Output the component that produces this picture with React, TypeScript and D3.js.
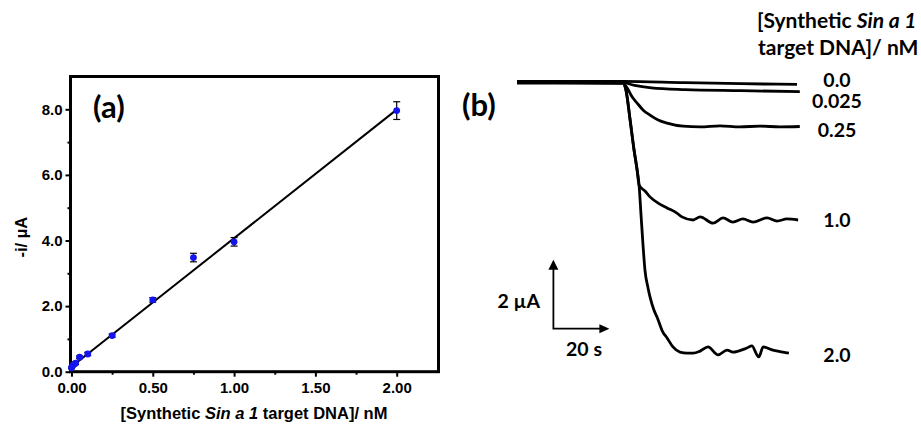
import React, { useEffect, useRef } from 'react';
import * as d3 from 'd3';

// (a) calibration: concentration (nM) vs -i (µA)
const concentrations = [0, 0.01, 0.025, 0.05, 0.1, 0.25, 0.5, 0.75, 1.0, 2.0];
const currents = [0.12, 0.2, 0.26, 0.44, 0.54, 1.1, 2.19, 3.48, 3.96, 7.96];
const errors = [0.03, 0.03, 0.04, 0.04, 0.05, 0.05, 0.07, 0.13, 0.13, 0.27];
const fitSlope = 3.92;
const fitIntercept = 0.15;
const xTicks = [0, 0.5, 1.0, 1.5, 2.0];
const xMinorTicks = [0.25, 0.75, 1.25, 1.75];
const yTicks = [0, 2, 4, 6, 8];
const yMinorTicks = [1, 3, 5, 7];

// (b) amperometric traces: [time / s, current / µA]
const trace00: [number, number][] = [
  [0, 0.02], [38, 0.02], [60, -0.02], [80, -0.05], [100, -0.07],
];
const trace0025: [number, number][] = [
  [0, -0.02], [38, -0.02], [42, -0.1], [48, -0.17], [60, -0.22], [80, -0.25], [101, -0.28],
];
const trace025: [number, number][] = [
  [0, 0], [37.9, -0.03], [39.3, -0.17], [41.1, -0.43], [42.9, -0.61], [45, -0.81],
  [47.5, -0.96], [50.4, -1.1], [53.6, -1.19], [59.3, -1.28], [65.4, -1.3], [72.5, -1.27],
  [79.6, -1.3], [86.8, -1.28], [93.9, -1.3], [101, -1.29],
];
const trace10: [number, number][] = [
  [0, -0.03], [37.9, -0.03], [38.9, -0.23], [40.4, -1.1], [41.8, -1.97], [42.9, -2.55],
  [43.6, -2.99], [45.7, -3.16], [47.5, -3.33], [50.4, -3.51], [53.6, -3.65], [57.1, -3.8],
  [58.9, -3.91], [62.9, -4.0], [65.4, -3.91], [70, -4.09], [73.6, -3.94], [77.1, -4.06],
  [80.7, -3.97], [84.3, -4.06], [89.3, -3.94], [92.9, -4.03], [96.4, -3.97], [100.4, -4.0],
];
const trace20: [number, number][] = [
  [0, -0.01], [37.9, -0.03], [38.9, -0.23], [40.4, -1.1], [41.8, -1.97], [42.9, -2.55],
  [43.6, -2.99], [44.3, -3.86], [45, -4.72], [45.7, -5.45], [46.8, -5.97], [47.5, -6.23],
  [48.9, -6.61], [50, -6.81], [52.1, -7.25], [53.6, -7.42], [55.7, -7.68], [58.2, -7.83],
  [60.7, -7.86], [62.9, -7.86], [65.4, -7.8], [68.2, -7.68], [71.8, -7.91], [75, -7.77],
  [77.1, -7.83], [82.1, -7.71], [83.9, -7.65], [85.7, -7.91], [86.4, -7.97], [87.9, -7.68],
  [91.4, -7.77], [95, -7.83], [97.1, -7.86],
];
const traces = [trace00, trace0025, trace025, trace10, trace20];
const traceLabels = ['0.0', '0.025', '0.25', '1.0', '2.0'];
const scaleBarCurrent = 2; // µA
const scaleBarTime = 20; // s

const armFont = '"Liberation Sans", Arial, sans-serif';
const calFont = 'Lato, "Open Sans", sans-serif';

function drawCalibration(svg: d3.Selection<SVGSVGElement, unknown, null, undefined>) {
  const x = d3.scaleLinear().domain([-0.006, 2.257]).range([70.5, 438.5]);
  const y = d3.scaleLinear().domain([0, 9]).range([371.7, 76.5]);
  const g = svg.append('g');

  const xAxis = g.append('g').attr('transform', `translate(0,${y(0)})`)
    .call(d3.axisBottom(x).tickValues(xTicks).tickSize(5).tickPadding(6).tickFormat(d3.format('.2f')));
  const xMinor = g.append('g').attr('transform', `translate(0,${y(0)})`)
    .call(d3.axisBottom(x).tickValues(xMinorTicks).tickSize(3).tickFormat(() => ''));
  const yAxis = g.append('g').attr('transform', `translate(${x.range()[0]},0)`)
    .call(d3.axisLeft(y).tickValues(yTicks).tickSize(5).tickPadding(3).tickFormat(d3.format('.1f')));
  const yMinor = g.append('g').attr('transform', `translate(${x.range()[0]},0)`)
    .call(d3.axisLeft(y).tickValues(yMinorTicks).tickSize(3).tickFormat(() => ''));

  [xAxis, xMinor, yAxis, yMinor].forEach(a => {
    a.select('.domain').remove();
    a.selectAll('line').attr('stroke', '#000').attr('stroke-width', 2);
    a.selectAll('text').attr('font-family', armFont).attr('font-weight', 'bold')
      .attr('font-size', 15).attr('fill', '#000');
  });

  // frame
  g.append('rect')
    .attr('x', x.range()[0]).attr('y', y.range()[1])
    .attr('width', x.range()[1] - x.range()[0]).attr('height', y.range()[0] - y.range()[1])
    .attr('fill', 'none').attr('stroke', '#000').attr('stroke-width', 3);

  // linear fit
  g.append('line')
    .attr('x1', x(0)).attr('y1', y(fitIntercept))
    .attr('x2', x(2)).attr('y2', y(fitIntercept + fitSlope * 2))
    .attr('stroke', '#000').attr('stroke-width', 2);

  const pts = concentrations.map((c, i) => ({ c, v: currents[i], e: errors[i] }));
  const eb = g.selectAll('g.eb').data(pts).enter().append('g').attr('stroke', '#000').attr('stroke-width', 1.2);
  eb.append('line').attr('x1', d => x(d.c)).attr('x2', d => x(d.c))
    .attr('y1', d => y(d.v - d.e)).attr('y2', d => y(d.v + d.e));
  eb.append('line').attr('x1', d => x(d.c) - 3.5).attr('x2', d => x(d.c) + 3.5)
    .attr('y1', d => y(d.v - d.e)).attr('y2', d => y(d.v - d.e));
  eb.append('line').attr('x1', d => x(d.c) - 3.5).attr('x2', d => x(d.c) + 3.5)
    .attr('y1', d => y(d.v + d.e)).attr('y2', d => y(d.v + d.e));

  g.selectAll('circle.pt').data(pts).enter().append('circle')
    .attr('cx', d => x(d.c)).attr('cy', d => y(d.v)).attr('r', 3.4)
    .attr('fill', '#1414f0');

  g.append('text').attr('x', 93).attr('y', 118)
    .attr('font-family', calFont).attr('font-weight', 'bold').attr('font-size', 31)
    .text('(a)');

  g.append('text').attr('transform', `translate(27,${y(4.1)}) rotate(-90)`)
    .attr('text-anchor', 'middle')
    .attr('font-family', armFont).attr('font-weight', 'bold').attr('font-size', 16.5)
    .text('-i/ µA');

  const xt = g.append('text').attr('x', 254).attr('y', 419).attr('text-anchor', 'middle')
    .attr('font-family', armFont).attr('font-weight', 'bold').attr('font-size', 16.5);
  xt.append('tspan').text('[Synthetic ');
  xt.append('tspan').attr('font-style', 'italic').text('Sin a 1');
  xt.append('tspan').text(' target DNA]/ nM');
}

function drawTraces(svg: d3.Selection<SVGSVGElement, unknown, null, undefined>) {
  const t = d3.scaleLinear().domain([0, 100]).range([517, 797]);
  const cur = d3.scaleLinear().domain([0, -8]).range([82, 358]);
  const g = svg.append('g');

  const line = d3.line<[number, number]>()
    .x(d => t(d[0])).y(d => cur(d[1]))
    .curve(d3.curveMonotoneX);

  g.selectAll('path.trace').data(traces).enter().append('path')
    .attr('d', d => line(d))
    .attr('fill', 'none').attr('stroke', '#000').attr('stroke-width', 2.8)
    .attr('stroke-linejoin', 'round');

  const labelDy = [3, 16, 10.5, 7, 9];
  g.selectAll('text.lbl').data(traces).enter().append('text')
    .attr('x', 837)
    .attr('y', (d, i) => cur(d[d.length - 1][1]) + labelDy[i])
    .attr('text-anchor', 'middle')
    .attr('font-family', calFont).attr('font-weight', 'bold').attr('font-size', 19.5)
    .text((d, i) => traceLabels[i]);

  const title = g.append('g').attr('font-family', calFont).attr('font-weight', 'bold').attr('font-size', 21);
  const t1 = title.append('text').attr('x', 757).attr('y', 28);
  t1.append('tspan').text('[Synthetic ');
  t1.append('tspan').attr('font-style', 'italic').text('Sin a 1');
  title.append('text').attr('x', 758).attr('y', 55).text('target DNA]/ nM');

  g.append('text').attr('x', 462).attr('y', 116)
    .attr('font-family', calFont).attr('font-weight', 'bold').attr('font-size', 31)
    .text('(b)');

  // scale bar
  const ox = t(13), oy = cur(-7.15);
  const topY = cur(-7.15 + scaleBarCurrent);
  const rightX = t(13 + scaleBarTime);
  const sb = g.append('g');
  sb.append('path')
    .attr('d', `M${ox},${topY + 8}V${oy}H${rightX - 8}`)
    .attr('fill', 'none').attr('stroke', '#000').attr('stroke-width', 1.8);
  sb.append('path')
    .attr('d', `M${ox},${topY}L${ox - 5},${topY + 10}L${ox + 5},${topY + 10}Z`);
  sb.append('path')
    .attr('d', `M${rightX},${oy}L${rightX - 10},${oy - 4.5}L${rightX - 10},${oy + 4.5}Z`);
  sb.append('text').attr('x', 540).attr('y', 308).attr('text-anchor', 'end')
    .attr('font-family', calFont).attr('font-weight', 'bold').attr('font-size', 19.5)
    .text(`${scaleBarCurrent} µA`);
  sb.append('text').attr('x', 584).attr('y', 356).attr('text-anchor', 'middle')
    .attr('font-family', calFont).attr('font-weight', 'bold').attr('font-size', 19.5)
    .text(`${scaleBarTime} s`);
}

export default function App() {
  const ref = useRef<SVGSVGElement>(null);

  useEffect(() => {
    if (!ref.current) return;
    const svg = d3.select(ref.current);
    svg.selectAll('*').remove();
    drawCalibration(svg);
    drawTraces(svg);
  }, []);

  return (
    <svg
      ref={ref}
      width={921}
      height={424}
      style={{ position: 'absolute', left: 0, top: 0, background: '#fff' }}
    />
  );
}
